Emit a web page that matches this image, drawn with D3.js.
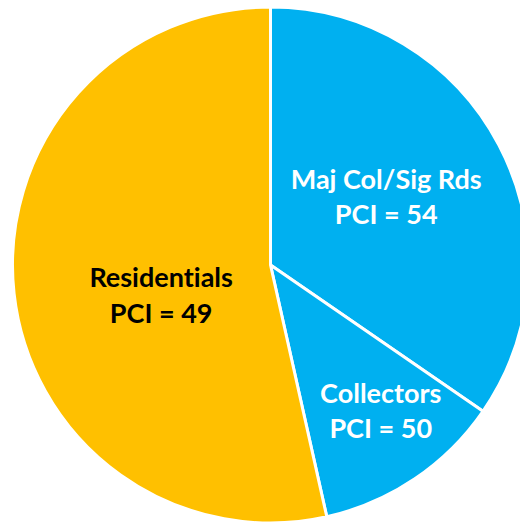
<!DOCTYPE html>
<html>
<head>
<meta charset="utf-8">
<script src="https://cdn.jsdelivr.net/npm/d3@7"></script>
<style>
  html, body { margin: 0; padding: 0; background: #fff; }
  svg { display: block; }
  .label { font-variant-ligatures: none; }
</style>
</head>
<body>
<div class="pci_pie"></div>
<script>
// road classes, share of the network and PCI
const categories = ['Maj Col/Sig Rds', 'Collectors', 'Residentials'];
const shares = [34.6, 11.9, 53.5];
const pciValues = [54, 50, 49];

const colors = ['#00b0f0', '#00b0f0', '#ffc000'];
const textColors = ['#ffffff', '#ffffff', '#000000'];
// where each label sits: angle in degrees (clockwise from top) and radius as fraction of pie radius
const labelPolar = [[59.6, 0.52], [143, 0.71], [254.4, 0.44]];

const width = 520, height = 523;
const cx = 270.5, cy = 265, radius = 258;

const data = categories.map((c, i) => ({name: c, share: shares[i], pci: pciValues[i], i: i}));

const svg = d3.select('.pci_pie')
              .append('svg')
              .attr('width', width)
              .attr('height', height);

const g = svg.append('g')
             .attr('transform', `translate(${cx}, ${cy})`);

const pie = d3.pie()
              .sort(null)
              .value(d => d.share);

const arc = d3.arc()
              .innerRadius(0)
              .outerRadius(radius);

const arcs = pie(data);

g.selectAll('path')
 .data(arcs)
 .enter()
 .append('path')
 .attr('d', arc)
 .attr('fill', d => colors[d.data.i])
 .attr('stroke', '#fff')
 .attr('stroke-width', 3)
 .attr('stroke-linejoin', 'round');

const labels = g.selectAll('.label')
  .data(arcs)
  .enter()
  .append('text')
  .attr('class', 'label')
  .attr('transform', d => {
      const [deg, f] = labelPolar[d.data.i];
      const a = deg * Math.PI / 180;
      return `translate(${Math.sin(a) * radius * f}, ${-Math.cos(a) * radius * f})`;
  })
  .attr('text-anchor', 'middle')
  .attr('font-family', 'Lato, "Open Sans", sans-serif')
  .attr('font-weight', 'bold')
  .attr('font-size', 27)
  .attr('fill', d => textColors[d.data.i]);

labels.append('tspan')
      .attr('x', 0)
      .attr('y', -8.5)
      .text(d => d.data.name);

labels.append('tspan')
      .attr('x', 0)
      .attr('y', 27)
      .text(d => 'PCI = ' + d.data.pci);
</script>
</body>
</html>
